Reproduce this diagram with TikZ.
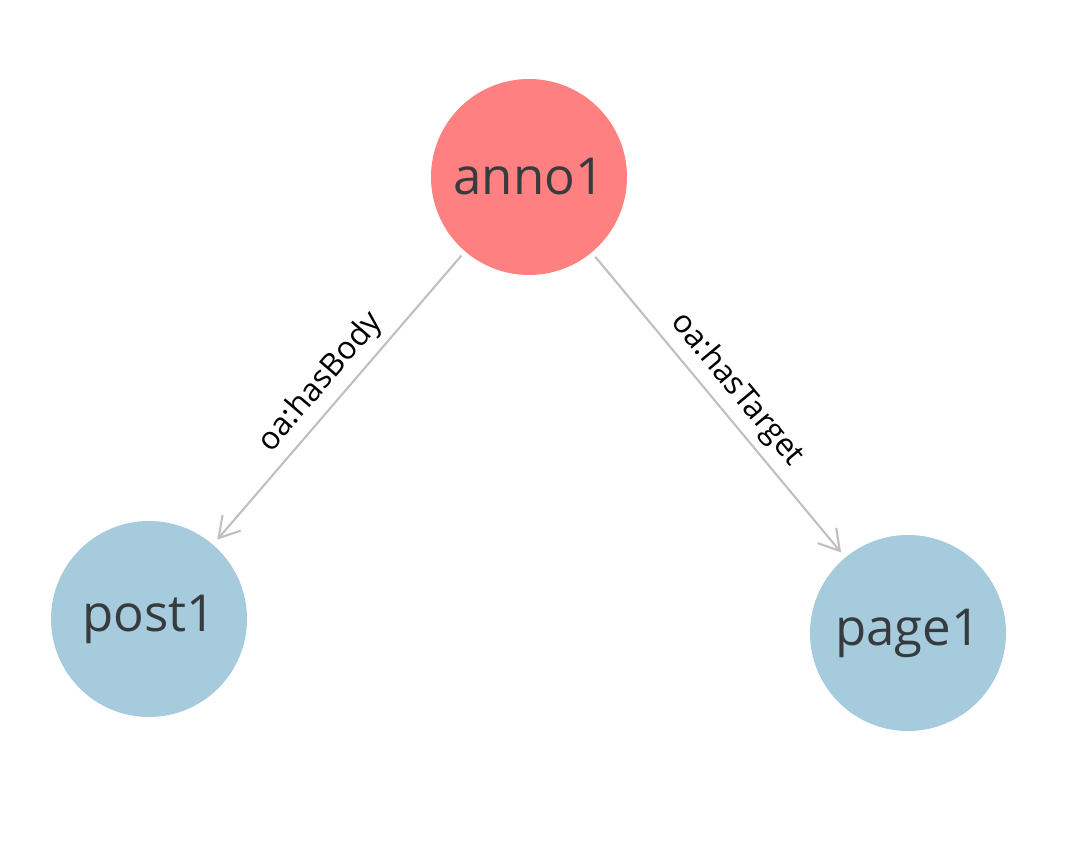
\documentclass[tikz,border=0pt]{standalone}
\usepackage{fontspec}
\setmainfont{Open Sans}
\usepackage{tikz}
\usetikzlibrary{positioning, arrows.meta}
\definecolor{annored}{HTML}{FF8080}
\definecolor{resblue}{HTML}{A5CBDD}
\definecolor{edgegray}{HTML}{C0C0C0}
\definecolor{textgray}{HTML}{383B3E}

\begin{document}
\begin{tikzpicture}[
  on grid,
  mynode/.style={circle,minimum size=1.96cm,inner sep=0pt,text=textgray,font=\fontsize{14.5}{17}\selectfont},
  myedge/.style={draw=edgegray,line width=0.6pt,-{Straight Barb[length=2mm,width=2.4mm]},shorten <=0.05cm,shorten >=0.06cm},
  mylabel/.style={sloped,above,font=\fontsize{9}{11}\selectfont,inner sep=2pt}
]
\useasboundingbox (0,0) rectangle (10.82,8.60);

\node[mynode,fill=annored] (anno) at (5.29,6.83) {anno1};
\node[mynode,fill=resblue,below left=4.42cm and 3.80cm of anno] (post) {post1};
\node[mynode,fill=resblue,below right=4.56cm and 3.79cm of anno] (page) {page1};

\path (anno) edge[myedge] node[mylabel] {oa:hasBody} (post)
(anno) edge[myedge] node[mylabel] {oa:hasTarget} (page);

\end{tikzpicture}
\end{document}
